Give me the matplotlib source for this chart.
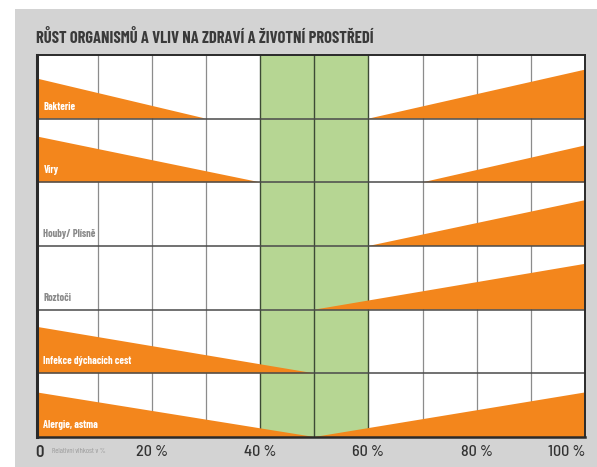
import matplotlib
matplotlib.use("Agg")
import matplotlib.pyplot as plt
from matplotlib.patches import Polygon, Rectangle

# ---- data ----
categories = ["Bakterie", "Viry", "Houby/ Plísně", "Roztoči",
              "Infekce dýchacích cest", "Alergie, astma"]
left_end = [30, 40, None, None, 50, 50]        # % where the left wedge tapers out
left_height = [0.63, 0.72, 0.0, 0.0, 0.73, 0.70]
right_start = [60, 70, 60, 50, None, 50]        # % where the right wedge starts
right_height = [0.77, 0.58, 0.72, 0.72, 0.0, 0.70]
label_white = [True, True, False, False, True, True]
optimum = (40, 60)
tick_pos = [0, 20, 40, 60, 80, 100]
tick_labels = ["0", "20 %", "40 %", "60 %", "80 %", "100 %"]
title = "RŮST ORGANISMŮ A VLIV NA ZDRAVÍ A ŽIVOTNÍ PROSTŘEDÍ"
axis_note = "Relativní vlhkost v %"

COND = ["Barlow Condensed", "DejaVu Sans"]
SEMI = ["Barlow Semi Condensed", "DejaVu Sans"]

ORANGE = "#f3861c"
GREEN = "#b6d693"
BG = "#d3d3d3"

fig = plt.figure(figsize=(5.97, 4.67), dpi=100)
fig.patch.set_facecolor("white")
fig.add_artist(Rectangle((15 / 597, 0), 1, 1 - 9 / 467, transform=fig.transFigure,
                         facecolor=BG, edgecolor="none", zorder=-10))

ax = fig.add_axes([37 / 597, 1 - 437 / 467, (585 - 37) / 597, (437 - 55) / 467])
ax.set_facecolor("white")
xmin, xmax = -1.2, 100
ax.set_xlim(xmin, xmax)
n = len(categories)
ax.set_ylim(0, n)

# optimum band
ax.axvspan(optimum[0], optimum[1], color=GREEN, zorder=0.5, lw=0)

# vertical grid
for x in range(10, 100, 10):
    dark = x in (40, 50, 60)
    ax.axvline(x, color="#3d4a35" if dark else "#8c8c8c", lw=1.0 if dark else 0.9, zorder=1)

for i, cat in enumerate(categories):
    base = n - 1 - i
    if left_end[i] is not None:
        ax.add_patch(Polygon([(xmin, base), (xmin, base + left_height[i]), (left_end[i], base)],
                             closed=True, facecolor=ORANGE, edgecolor="none", zorder=2))
    if right_start[i] is not None:
        ax.add_patch(Polygon([(right_start[i], base), (xmax, base + right_height[i]), (xmax, base)],
                             closed=True, facecolor=ORANGE, edgecolor="none", zorder=2))
    ax.text(0.0, base + 0.19, cat, fontsize=7.5, fontweight="bold", family=COND,
            color="white" if label_white[i] else "#8a8a8a", ha="left", va="center", zorder=4)

for y in range(1, n):
    ax.axhline(y, color="#4a4a4a", lw=1.1, zorder=3)

for s in ax.spines.values():
    s.set_color("#2a2a2a")
    s.set_linewidth(1.4)
    s.set_zorder(5)
ax.spines["left"].set_linewidth(2.2)
ax.spines["bottom"].set_linewidth(1.8)

ax.set_yticks([])
ax.set_xticks(tick_pos)
ax.set_xticklabels(tick_labels, fontsize=11.5, family=SEMI, color="#333333", fontweight="medium")
ax.tick_params(axis="x", length=0, pad=6)
lbls = ax.get_xticklabels()
lbls[0].set_ha("right")
lbls[-1].set_ha("right")
lbls[0].set_fontweight("semibold")
lbls[0].set_fontsize(12)

ax.text(1.5, -0.22, axis_note, fontsize=5.5, family=COND, color="#9a9a9a",
        ha="left", va="center", transform=ax.transData, clip_on=False)

fig.text(36 / 597, 1 - 38 / 467, title, fontsize=11.9, fontweight="bold", family=COND,
         color="#3a3a3a", ha="left", va="center")

fig.savefig("out.png", dpi=100)
